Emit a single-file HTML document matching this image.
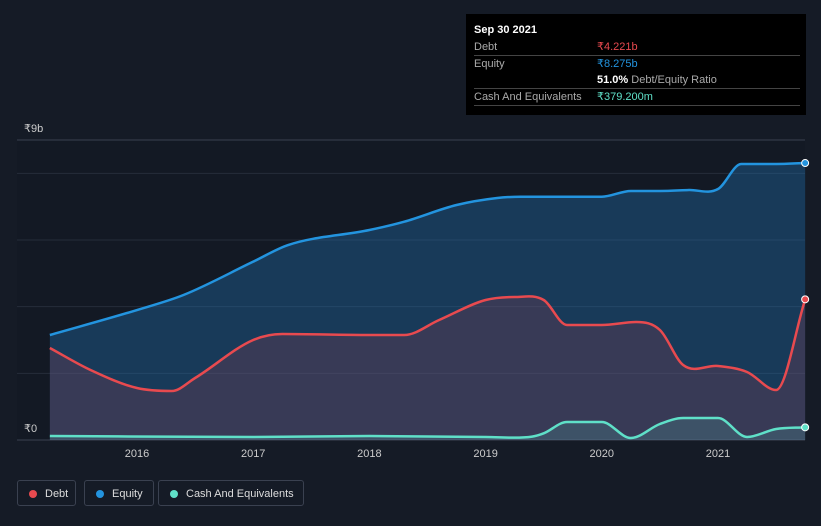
<!DOCTYPE html>
<html><head><meta charset="utf-8"><style>
body{margin:0;background:#151b26;width:821px;height:526px;overflow:hidden;font-family:"Liberation Sans",sans-serif;}
#tip{position:absolute;left:466px;top:14px;width:340px;height:101px;background:#000;color:#fff;font-size:11px;}
.r{position:absolute;left:8px;width:326px;border-bottom:1px solid #444;height:16px;line-height:16px;color:#aaa}
.v{position:absolute;left:123px}
#legend{position:absolute;top:480px;left:17px;}
.lg{position:absolute;top:0;height:26px;border:1px solid #3a4150;border-radius:3px;color:#ddd;font-size:11px;line-height:26px;box-sizing:border-box;padding-left:27px}
.dot{position:absolute;left:11px;top:9px;width:8px;height:8px;border-radius:50%}
</style></head><body>
<svg id="c" width="821" height="526" style="position:absolute;left:0;top:0"></svg>
<div id="tip">
<div style="position:absolute;left:8px;top:10px;font-weight:bold;font-size:11px">Sep 30 2021</div>
<div class="r" style="top:25px">Debt<span class="v" style="color:#e84a4f">₹4.221b</span></div>
<div class="r" style="top:42px;border:none">Equity<span class="v" style="color:#2394df">₹8.275b</span></div>
<div class="r" style="top:58px"><span class="v"><b style="color:#fff">51.0%</b> Debt/Equity Ratio</span></div>
<div class="r" style="top:75px">Cash And Equivalents<span class="v" style="color:#5fe0c8">₹379.200m</span></div>
</div>
<div id="legend">
<div class="lg" style="left:0;width:59px"><span class="dot" style="background:#e84a4f"></span>Debt</div>
<div class="lg" style="left:67px;width:70px"><span class="dot" style="background:#2394df"></span>Equity</div>
<div class="lg" style="left:141px;width:146px"><span class="dot" style="background:#5fe0c8"></span>Cash And Equivalents</div>
</div>
<script>
const eqX=[2015.25,2016.0,2016.4,2017.0,2017.3,2018.0,2018.3,2018.75,2019.1,2019.3,2020.0,2020.25,2020.5,2020.75,2021.0,2021.2,2021.5,2021.75];
const eqY=[3.15,3.9,4.35,5.35,5.85,6.3,6.55,7.05,7.26,7.3,7.3,7.47,7.47,7.5,7.53,8.28,8.28,8.31];
const dbX=[2015.25,2015.6,2016.0,2016.3,2016.5,2017.0,2017.25,2018.0,2018.3,2018.6,2019.0,2019.25,2019.5,2019.7,2020.0,2020.3,2020.5,2020.7,2021.0,2021.25,2021.5,2021.75];
const dbY=[2.76,2.1,1.56,1.47,1.86,3.0,3.18,3.15,3.15,3.6,4.2,4.29,4.2,3.45,3.45,3.54,3.3,2.25,2.22,2.04,1.5,4.22];
const caX=[2015.25,2017.0,2018.0,2019.0,2019.4,2019.5,2019.7,2020.0,2020.25,2020.5,2020.7,2021.0,2021.25,2021.5,2021.75];
const caY=[0.12,0.09,0.12,0.09,0.1,0.2,0.54,0.54,0.06,0.48,0.66,0.66,0.09,0.33,0.38];
const yearTicks=[2016,2017,2018,2019,2020,2021];
const grid=[0,2,4,6,8];
const NS='http://www.w3.org/2000/svg',svg=document.getElementById('c');
const X=t=>137+(t-2016)*116.2, Y=v=>440-v*33.33;
function el(tag,a,p){const e=document.createElementNS(NS,tag);for(const k in a)e.setAttribute(k,a[k]);(p||svg).appendChild(e);return e;}
function mono(xs,ys){const n=xs.length,px=xs.map(X),py=ys.map(Y),d=[],m=[];
for(let i=0;i<n-1;i++)d.push((py[i+1]-py[i])/(px[i+1]-px[i]));
for(let i=0;i<n;i++){if(i==0)m.push(d[0]);else if(i==n-1)m.push(d[n-2]);else m.push(d[i-1]*d[i]<=0?0:(d[i-1]+d[i])/2);}
let s='M'+px[0]+','+py[0];
for(let i=0;i<n-1;i++){const h=(px[i+1]-px[i])/3;s+=`C${px[i]+h},${py[i]+m[i]*h} ${px[i+1]-h},${py[i+1]-m[i+1]*h} ${px[i+1]},${py[i+1]}`;}
return s;}
el('rect',{x:17,y:140,width:788,height:300,fill:'#131924'});
let g=el('line',{x1:17,x2:805,y1:140,y2:140,stroke:'#3a4150'});
grid.forEach(v=>{const l=el('line',{x1:17,x2:805,y1:Y(v),y2:Y(v),stroke:v==0?'#3a4150':'#262d3a'});

});
function series(xs,ys,col,fill,name){
const p=mono(xs,ys);
const a=el('path',{d:p+`L${X(xs[xs.length-1])},440L${X(xs[0])},440Z`,fill:fill});


const l=el('path',{d:p,fill:'none',stroke:col,'stroke-width':2.5});


const c=el('circle',{cx:X(xs[xs.length-1]),cy:Y(ys[ys.length-1]),r:3.5,fill:col,stroke:'#fff','stroke-width':1});

}
series(eqX,eqY,'#2394df','rgba(35,120,190,0.35)','equity');
series(dbX,dbY,'#e84a4f','rgba(140,60,80,0.28)','debt');
series(caX,caY,'#5fe0c8','rgba(95,224,200,0.15)','cash');
yearTicks.forEach(t=>{const e=el('text',{x:X(t),y:457,fill:'#ccc','font-size':11,'text-anchor':'middle'});e.textContent=t;

});
let t1=el('text',{x:24,y:132,fill:'#ccc','font-size':11});t1.textContent='₹9b';
let t0=el('text',{x:24,y:432,fill:'#ccc','font-size':11});t0.textContent='₹0';
</script>
</body></html>
